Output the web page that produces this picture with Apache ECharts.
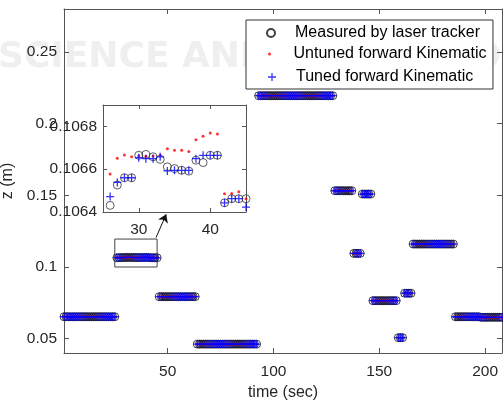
<!DOCTYPE html>
<html lang="en">
<head>
<meta charset="UTF-8">
<title>z position vs time</title>
<script src="https://cdn.jsdelivr.net/npm/echarts@6/dist/echarts.min.js"></script>
<style>html,body{margin:0;padding:0;background:#fff}</style>
</head>
<body>
<div id="chart" style="width:503px;height:405px"></div>
<script>
// step levels of the main plot: time (sec) from..to, z (m)
const segStart = [1, 26, 46, 64, 93, 129, 138, 142, 147, 159, 162, 166, 186, 198];
const segEnd   = [25, 45, 63, 92, 128, 137, 141, 146, 158, 161, 165, 185, 197, 208];
const segZ     = [0.0653, 0.1066, 0.0793, 0.0462, 0.2195, 0.1532, 0.1095, 0.1509, 0.0765, 0.0507, 0.0817, 0.1160, 0.0653, 0.0649];

// zoomed window (inset), one sample per second
const zoomTime = [26, 27, 28, 29, 30, 31, 32, 33, 34, 35, 36, 37, 38, 39, 40, 41, 42, 43, 44, 45];
const measuredZoom = [0.106431, 0.106526, 0.10656, 0.10656, 0.106665, 0.106669, 0.106658, 0.106646, 0.106611, 0.106603,
                      0.106595, 0.106591, 0.106642, 0.106631, 0.106665, 0.106665, 0.106443, 0.106462, 0.106462, 0.106462];
const untunedZoom  = [0.106577, 0.106651, 0.106666, 0.106658, 0.106662, 0.10666, 0.106662, 0.106665, 0.106695, 0.106689,
                      0.106689, 0.106683, 0.106738, 0.106754, 0.106769, 0.106765, 0.106485, 0.106486, 0.106495, 0.106462];
const tunedZoom    = [0.106472, 0.106538, 0.10656, 0.10656, 0.106654, 0.106649, 0.106649, 0.106658, 0.106592, 0.106595,
                      0.106595, 0.106595, 0.106649, 0.106665, 0.106665, 0.106665, 0.106443, 0.106462, 0.106462, 0.106423];

const xTicks = [50, 100, 150, 200];
const yTicks = [0.05, 0.1, 0.15, 0.2, 0.25];
const insetXTicks = [30, 40];
const insetYTicks = [0.1064, 0.1066, 0.1068];

const names = ['Measured by laser tracker', 'Untuned forward Kinematic', 'Tuned forward Kinematic'];

function fullSeries(zoomVals) {
    let out = [];
    for (let i = 0; i < segStart.length; i++) {
        for (let t = segStart[i]; t <= segEnd[i]; t++) {
            let k = zoomTime.indexOf(t);
            out.push([t, k >= 0 ? zoomVals[k] : segZ[i]]);
        }
    }
    return out;
}
function zoomSeries(vals) {
    return zoomTime.map((t, i) => [t, vals[i]]);
}

const font = '"Liberation Sans", Arial, sans-serif';
const axisCol = '#555';
const textCol = '#262626';
const tickFont = 15.5;
const plus = 'path://M0,4.2H10V5.8H0Z M4.2,0H5.8V10H4.2Z';

function boxAxis(extra) {
    return Object.assign({
        type: 'value',
        axisLine: {show: true, onZero: false, lineStyle: {color: axisCol, width: 1}},
        axisTick: {show: true, inside: true, length: 5, lineStyle: {color: axisCol}},
        axisLabel: {show: false},
        splitLine: {show: false}
    }, extra);
}

let chart = echarts.init(document.getElementById('chart'), null, {renderer: 'canvas'});

let legendBase = {
    orient: 'vertical', left: 266, itemWidth: 38, itemGap: 0, padding: 0,
    selectedMode: false,
    textStyle: {fontSize: 16, fontFamily: font, color: '#000', lineHeight: 18}
};

let option = {
    animation: false,
    backgroundColor: '#fff',
    graphic: [{
        type: 'text', left: -2, top: 40, z: -10, silent: true,
        style: {text: 'SCIENCE AND TECHNOLOGY', fill: '#efefef', font: 'bold 36px "DejaVu Sans", sans-serif'}
    }],
    legend: [
        Object.assign({}, legendBase, {
            data: [names[0]], top: 20, itemHeight: 8,
            padding: [4, 13, 47, 20], left: 246,
            borderColor: '#333', borderWidth: 1, backgroundColor: '#fff'
        }),
        Object.assign({}, legendBase, {data: [names[1]], top: 45, itemHeight: 3, left: 268}),
        Object.assign({}, legendBase, {data: [names[2]], top: 68, itemHeight: 8, left: 268})
    ],
    grid: [
        {left: 64, top: 9, width: 438, height: 344, outerBoundsMode: 'none', containLabel: false},
        {left: 103, top: 105, width: 143, height: 107, outerBoundsMode: 'none', containLabel: false,
         show: true, backgroundColor: '#fff', borderWidth: 0}
    ],
    xAxis: [
        boxAxis({gridIndex: 0, position: 'bottom', min: 1, max: 208,
            axisTick: {show: true, inside: true, length: 5, customValues: xTicks, lineStyle: {color: axisCol}},
            axisLabel: {show: true, customValues: xTicks, margin: 11, fontSize: tickFont, fontFamily: font, color: textCol},
            name: 'time (sec)', nameLocation: 'middle', nameGap: 32,
            nameTextStyle: {fontSize: 16, fontFamily: font, color: textCol}}),
        boxAxis({gridIndex: 0, position: 'top', min: 1, max: 208,
            axisTick: {show: true, inside: true, length: 5, customValues: xTicks, lineStyle: {color: axisCol}}}),
        boxAxis({gridIndex: 1, position: 'bottom', min: 25, max: 45,
            axisTick: {show: true, inside: true, length: 4, customValues: insetXTicks, lineStyle: {color: axisCol}},
            axisLabel: {show: true, customValues: insetXTicks, margin: 10, fontSize: tickFont, fontFamily: font, color: textCol}}),
        boxAxis({gridIndex: 1, position: 'top', min: 25, max: 45,
            axisTick: {show: true, inside: true, length: 4, customValues: insetXTicks, lineStyle: {color: axisCol}}})
    ],
    yAxis: [
        boxAxis({gridIndex: 0, position: 'left', min: 0.04, max: 0.28,
            axisTick: {show: true, inside: true, length: 5, customValues: yTicks, lineStyle: {color: axisCol}},
            axisLabel: {show: true, customValues: yTicks, margin: 7, fontSize: tickFont, fontFamily: font, color: textCol},
            name: 'z (m)', nameLocation: 'middle', nameGap: 45, nameRotate: 90,
            nameTextStyle: {fontSize: 16, fontFamily: font, color: textCol}}),
        boxAxis({gridIndex: 0, position: 'right', min: 0.04, max: 0.28,
            axisTick: {show: true, inside: true, length: 5, customValues: yTicks, lineStyle: {color: axisCol}}}),
        boxAxis({gridIndex: 1, position: 'left', min: 0.1064, max: 0.1069,
            axisTick: {show: true, inside: true, length: 4, customValues: insetYTicks, lineStyle: {color: axisCol}},
            axisLabel: {show: true, customValues: insetYTicks, margin: 6, fontSize: tickFont, fontFamily: font, color: textCol,
                formatter: v => v.toFixed(4)}}),
        boxAxis({gridIndex: 1, position: 'right', min: 0.1064, max: 0.1069,
            axisTick: {show: true, inside: true, length: 4, customValues: insetYTicks, lineStyle: {color: axisCol}}})
    ],
    series: [
        {
            name: names[0], type: 'scatter', xAxisIndex: 0, yAxisIndex: 0,
            symbol: 'circle', symbolSize: 8,
            itemStyle: {color: 'rgba(0,0,0,0)', borderColor: '#111', borderWidth: 1},
            data: fullSeries(measuredZoom),
            markArea: {
                silent: true,
                itemStyle: {color: 'rgba(0,0,0,0)', borderColor: '#444', borderWidth: 1},
                data: [[{coord: [25, 0.1]}, {coord: [45, 0.1195]}]]
            },
            markLine: {
                silent: true, symbol: ['none', 'arrow'], symbolSize: 8,
                label: {show: false},
                lineStyle: {color: '#111', width: 1, type: 'solid'},
                data: [[{coord: [44.5, 0.1205]}, {coord: [49.3, 0.1368]}]]
            }
        },
        {
            name: names[1], type: 'scatter', xAxisIndex: 0, yAxisIndex: 0,
            symbol: 'circle', symbolSize: 3,
            itemStyle: {color: '#ff0000'},
            data: fullSeries(untunedZoom)
        },
        {
            name: names[2], type: 'scatter', xAxisIndex: 0, yAxisIndex: 0,
            symbol: plus, symbolSize: 8,
            itemStyle: {color: '#0000ff'},
            data: fullSeries(tunedZoom)
        },
        {
            name: names[0], type: 'scatter', xAxisIndex: 2, yAxisIndex: 2,
            symbol: 'circle', symbolSize: 8,
            itemStyle: {color: 'rgba(0,0,0,0)', borderColor: '#222', borderWidth: 0.9},
            data: zoomSeries(measuredZoom)
        },
        {
            name: names[1], type: 'scatter', xAxisIndex: 2, yAxisIndex: 2,
            symbol: 'circle', symbolSize: 3,
            itemStyle: {color: '#ff0000'},
            data: zoomSeries(untunedZoom)
        },
        {
            name: names[2], type: 'scatter', xAxisIndex: 2, yAxisIndex: 2,
            symbol: plus, symbolSize: 8,
            itemStyle: {color: '#0000ff'},
            data: zoomSeries(tunedZoom)
        }
    ]
};
chart.setOption(option);
</script>
</body>
</html>
